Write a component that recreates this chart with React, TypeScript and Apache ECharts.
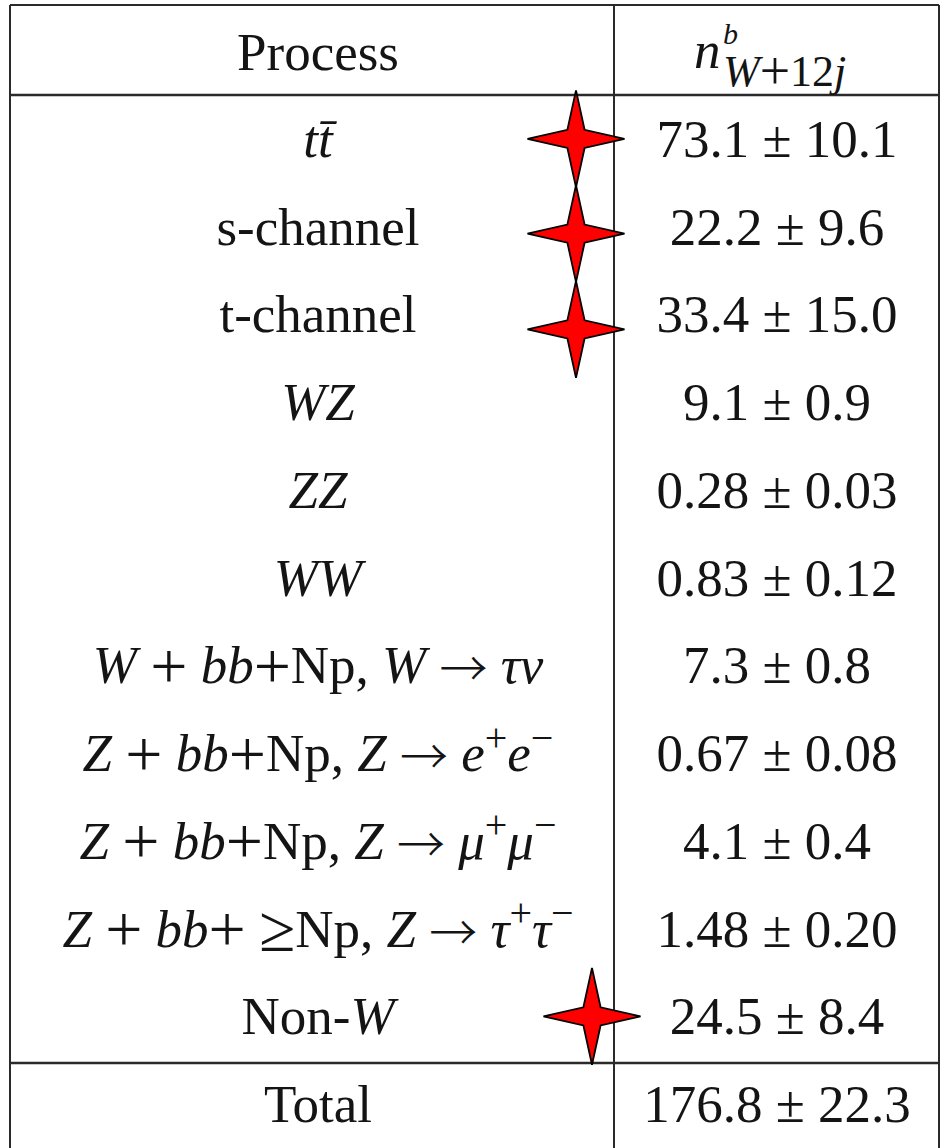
import React, { useEffect, useRef } from "react";
import * as echarts from "echarts";

// ---------- data ----------
const processLabels: string[] = [
  "{i|tt\u0304}",
  "s-channel",
  "t-channel",
  "{i|WZ}",
  "{i|ZZ}",
  "{i|WW}",
  "{i|W} {p|+} {i|bb}{p|+}Np, {i|W} {a|\u2192} {i|\u03c4\u03bd}",
  "{i|Z} {p|+} {i|bb}{p|+}Np, {i|Z} {a|\u2192} {i|e}{s|+}{i|e}{s|\u2212}",
  "{i|Z} {p|+} {i|bb}{p|+}Np, {i|Z} {a|\u2192} {i|\u03bc}{s|+}{i|\u03bc}{s|\u2212}",
  "{i|Z} {p|+} {i|bb}{p|+} {p|\u2265}Np, {i|Z} {a|\u2192} {i|\u03c4}{s|+}{i|\u03c4}{s|\u2212}",
  "Non-{i|W}",
];
const yieldValues: number[] = [73.1, 22.2, 33.4, 9.1, 0.28, 0.83, 7.3, 0.67, 4.1, 1.48, 24.5];
const yieldErrors: number[] = [10.1, 9.6, 15.0, 0.9, 0.03, 0.12, 0.8, 0.08, 0.4, 0.2, 8.4];
const yieldDecimals: number[] = [1, 1, 1, 1, 2, 2, 1, 2, 1, 2, 1];
const totalLabel = "Total";
const totalValue = 176.8;
const totalError = 22.3;
const totalDecimals = 1;
const headerProcess = "Process";
// rows marked with a red star
const starRows: number[] = [0, 1, 2, 10];

// ---------- layout / style ----------
const W = 942;
const H = 1148;
const FONT = "'Liberation Serif', 'DejaVu Serif', serif";
const FS = 53;
const LH = 72;
const TEXT = "#141414";
const LINE = "#2a2a2a";
const LEFT_C = 318;
const RIGHT_C = 777;
const ROW_TOP = 95;
const ROW_H = 88;
const STAR_X = [576, 576, 576, 592];
const STAR_DY = [0, 7, 15, 0];
const STAR_PATH =
  "path://M0,-48 L8.5,-9 L48,0 L8.5,9 L0,48 L-8.5,9 L-48,0 L-8.5,-9 Z";

const richStyles = {
  i: { fontFamily: FONT, fontStyle: "italic", fontSize: FS, color: TEXT, lineHeight: LH },
  p: { fontFamily: FONT, fontSize: 66, color: TEXT, lineHeight: LH },
  a: { fontFamily: "'Noto Sans CJK SC', 'DejaVu Sans', sans-serif", fontWeight: 300, fontSize: 48, color: TEXT, lineHeight: LH },
  s: { fontFamily: FONT, fontSize: 40, color: TEXT, lineHeight: 40, verticalAlign: "top" },
};

export default function App() {
  const ref = useRef<HTMLDivElement>(null);
  useEffect(() => {
    document.body.style.margin = "0";
    if (!ref.current) return;
    const chart = echarts.init(ref.current, null, { renderer: "svg" });

    const leftCats = processLabels.concat([totalLabel]);
    const rightCats = yieldValues
      .map((v, i) => `${v.toFixed(yieldDecimals[i])} \u00b1 ${yieldErrors[i].toFixed(yieldDecimals[i])}`)
      .concat([`${totalValue.toFixed(totalDecimals)} \u00b1 ${totalError.toFixed(totalDecimals)}`]);
    const nRows = leftCats.length;

    const labelCommon = {
      interval: 0,
      margin: 0,
      align: "center" as const,
      verticalAlign: "middle" as const,
      fontFamily: FONT,
      fontSize: FS,
      color: TEXT,
      lineHeight: LH,
      rich: richStyles,
    };

    const totalLineY = ROW_TOP + (nRows - 1) * ROW_H;
    const divX = 614;
    const lineStyle = { stroke: LINE, lineWidth: 2 };
    const mid = { align: "left", verticalAlign: "middle", textAlign: "left", textVerticalAlign: "middle" };

    const option: any = {
      animation: false,
      backgroundColor: "#ffffff",
      grid: { left: LEFT_C, right: W - RIGHT_C, top: ROW_TOP, height: nRows * ROW_H },
      xAxis: { type: "value", min: LEFT_C, max: RIGHT_C, show: false },
      yAxis: [
        {
          type: "category",
          data: leftCats,
          inverse: true,
          position: "left",
          axisLine: { show: false },
          axisTick: { show: false },
          splitLine: { show: false },
          axisLabel: { ...labelCommon, formatter: (v: string) => v },
        },
        {
          type: "category",
          data: rightCats,
          inverse: true,
          position: "right",
          axisLine: { show: false },
          axisTick: { show: false },
          splitLine: { show: false },
          axisLabel: { ...labelCommon, formatter: (v: string) => v },
        },
      ],
      series: [
        {
          type: "scatter",
          yAxisIndex: 0,
          z: 100,
          symbol: STAR_PATH,
          symbolSize: 97,
          data: starRows.map((r, k) => ({
            value: [STAR_X[k], r],
            symbolOffset: [0, STAR_DY[k]],
          })),
          itemStyle: { color: "#ff0000", borderColor: "#000000", borderWidth: 1.8, opacity: 1 },
          emphasis: { disabled: true },
        },
      ],
      graphic: [
        { type: "line", z: 1, shape: { x1: 10, y1: 5, x2: 939, y2: 5 }, style: lineStyle },
        { type: "line", z: 1, shape: { x1: 10, y1: 5, x2: 10, y2: H }, style: lineStyle },
        { type: "line", z: 1, shape: { x1: 939, y1: 5, x2: 939, y2: H }, style: lineStyle },
        { type: "line", z: 1, shape: { x1: divX, y1: 5, x2: divX, y2: H }, style: lineStyle },
        { type: "line", z: 1, shape: { x1: 10, y1: ROW_TOP, x2: 939, y2: ROW_TOP }, style: { stroke: LINE, lineWidth: 2.5 } },
        { type: "line", z: 1, shape: { x1: 10, y1: totalLineY, x2: 939, y2: totalLineY }, style: { stroke: LINE, lineWidth: 2.5 } },
        {
          type: "text",
          z: 5,
          x: LEFT_C,
          y: 52,
          style: { text: headerProcess, font: `${FS}px ${FONT}`, fill: TEXT, align: "center", verticalAlign: "middle", textAlign: "center", textVerticalAlign: "middle" },
        },
        {
          type: "text",
          z: 5,
          x: 694,
          y: 50,
          style: { text: "n", font: `italic ${FS}px ${FONT}`, fill: TEXT, ...mid },
        },
        {
          type: "text",
          z: 5,
          x: 723,
          y: 33,
          style: { text: "b", font: `italic 30px ${FONT}`, fill: TEXT, lineHeight: 28, ...mid },
        },
        {
          type: "text",
          z: 5,
          x: 723,
          y: 71,
          style: {
            text: "{i|W}{p|+}{r|12}{i|j}",
            font: `44px ${FONT}`,
            fill: TEXT,
            lineHeight: 40,
            ...mid,
            rich: {
              i: { fontFamily: FONT, fontStyle: "italic", fontSize: 44, lineHeight: 40, fill: TEXT, color: TEXT },
              p: { fontFamily: FONT, fontSize: 54, lineHeight: 40, fill: TEXT, color: TEXT },
              r: { fontFamily: FONT, fontSize: 44, lineHeight: 40, fill: TEXT, color: TEXT },
            },
          },
        },
      ],
    };
    chart.setOption(option);
    return () => chart.dispose();
  }, []);
  return <div ref={ref} style={{ width: W, height: H }} />;
}
